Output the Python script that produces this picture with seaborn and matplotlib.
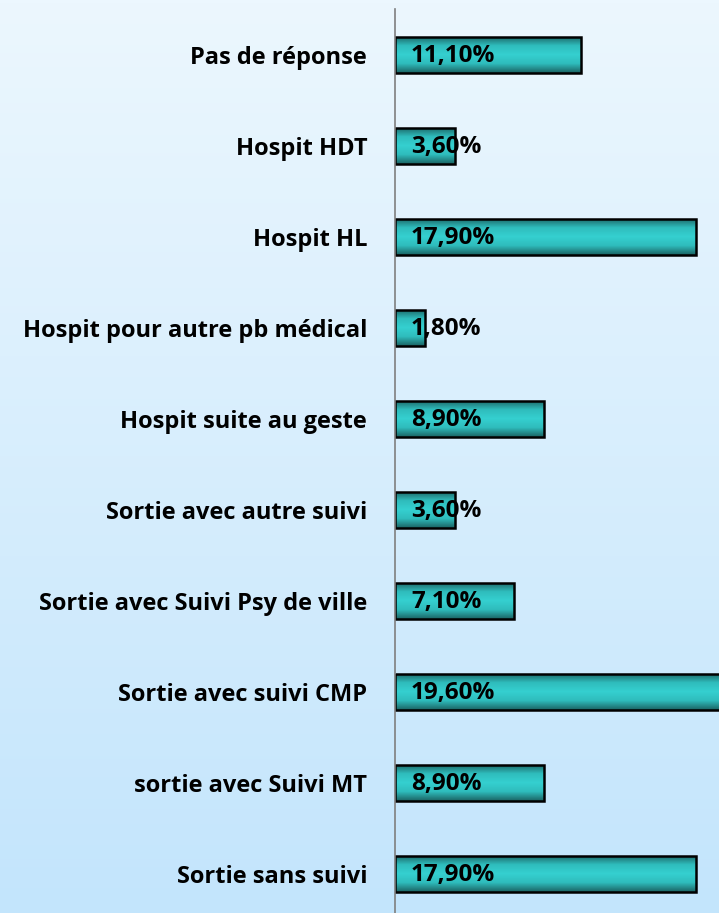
import numpy as np
import pandas as pd
import seaborn as sns
import matplotlib.pyplot as plt
from matplotlib.colors import LinearSegmentedColormap

sns.set_theme(style="white")
plt.rcParams['font.family'] = ['Open Sans', 'DejaVu Sans']

categories = ["Pas de réponse", "Hospit HDT", "Hospit HL", "Hospit pour autre pb médical",
              "Hospit suite au geste", "Sortie avec autre suivi", "Sortie avec Suivi Psy de ville",
              "Sortie avec suivi CMP", "sortie avec Suivi MT", "Sortie sans suivi"]
values = [11.1, 3.6, 17.9, 1.8, 8.9, 3.6, 7.1, 19.6, 8.9, 17.9]
labels = ["11,10%", "3,60%", "17,90%", "1,80%", "8,90%", "3,60%", "7,10%", "19,60%", "8,90%", "17,90%"]

df = pd.DataFrame({"cat": categories, "val": values})

fig = plt.figure(figsize=(7.19, 9.13), dpi=100)

# background gradient
bg = fig.add_axes([0, 0, 1, 1], zorder=-10)
bg_cmap = LinearSegmentedColormap.from_list("bg", ["#ecf7fe", "#c3e5fc"])
bg.imshow(np.linspace(0, 1, 256).reshape(-1, 1), cmap=bg_cmap, aspect="auto", extent=[0, 1, 0, 1], origin="upper")
bg.axis("off")

ax = fig.add_axes([395 / 719, -6.5 / 913, 324 / 719, 910 / 913])
ax.set_facecolor("none")

sns.barplot(data=df, x="val", y="cat", orient="h", width=0.4, ax=ax,
            facecolor="none", edgecolor="black", linewidth=1.8)

bar_cmap = LinearSegmentedColormap.from_list("bar", ["#1b6464", "#2fbcbc", "#35d0d0", "#2fbcbc", "#1b6464"])
grad = np.linspace(0, 1, 64).reshape(-1, 1)
for p in ax.patches:
    x0, y0, w, h = p.get_x(), p.get_y(), p.get_width(), p.get_height()
    im = ax.imshow(grad, cmap=bar_cmap, aspect="auto", extent=[x0, x0 + w, y0 + h, y0], zorder=1)
    im.set_clip_path(p)
    p.set_zorder(2)

for i, lab in enumerate(labels):
    ax.annotate(lab, xy=(0, i), xytext=(11.5, -1), textcoords="offset points",
                va="center", ha="left", fontsize=17.5, fontweight="bold", color="black", zorder=3)

ax.set_xlim(0, 19.29)
ax.set_ylim(len(categories) - 0.5, -0.5)
ax.set_xlabel("")
ax.set_ylabel("")
ax.set_xticks([])
ax.tick_params(axis="y", length=0, pad=20)
for t in ax.get_yticklabels():
    t.set_fontweight("bold")
    t.set_fontsize(17)
    t.set_color("black")
for s in ["top", "right", "bottom"]:
    ax.spines[s].set_visible(False)
ax.spines["left"].set_color("#7f7f7f")
ax.spines["left"].set_linewidth(1.2)

fig.savefig("out.png", dpi=100)
